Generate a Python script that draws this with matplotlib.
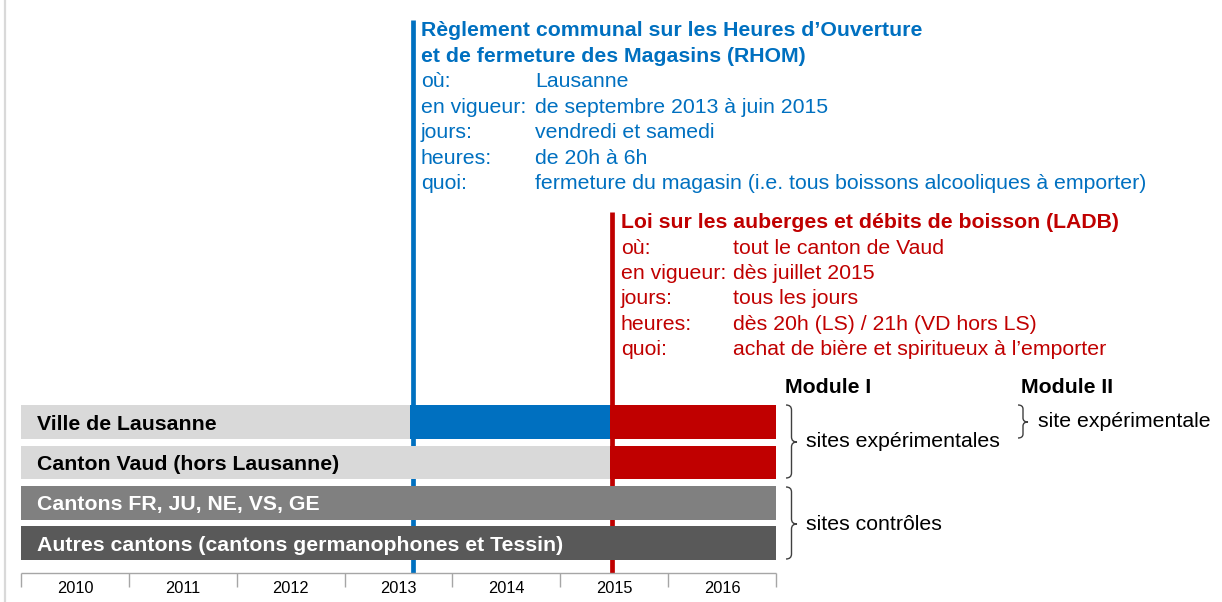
import matplotlib
matplotlib.use("Agg")
import matplotlib.pyplot as plt
from matplotlib.path import Path
from matplotlib.patches import PathPatch
from matplotlib.transforms import Affine2D, offset_copy
from matplotlib.lines import Line2D

# ---------------- data ----------------
years = [2010, 2011, 2012, 2013, 2014, 2015, 2016]
period_start = 2010.0
period_end = 2017.0
rhom_start = 2013.61      # RHOM (Lausanne), Sept 2013
ladb_start = 2015.46      # LADB (Vaud), July 2015

rows = ["Ville de Lausanne",
        "Canton Vaud (hors Lausanne)",
        "Cantons FR, JU, NE, VS, GE",
        "Autres cantons (cantons germanophones et Tessin)"]
row_base_colors = ["#D9D9D9", "#D9D9D9", "#808080", "#595959"]
row_text_colors = ["black", "black", "white", "white"]
rhom_rows = [True, False, False, False]
ladb_rows = [True, True, False, False]

rhom_title = ["Règlement communal sur les Heures d’Ouverture",
              "et de fermeture des Magasins (RHOM)"]
rhom_labels = ["où:", "en vigueur:", "jours:", "heures:", "quoi:"]
rhom_values = ["Lausanne", "de septembre 2013 à juin 2015", "vendredi et samedi",
               "de 20h à 6h", "fermeture du magasin (i.e. tous boissons alcooliques à emporter)"]

ladb_title = ["Loi sur les auberges et débits de boisson (LADB)"]
ladb_labels = ["où:", "en vigueur:", "jours:", "heures:", "quoi:"]
ladb_values = ["tout le canton de Vaud", "dès juillet 2015", "tous les jours",
               "dès 20h (LS) / 21h (VD hors LS)", "achat de bière et spiritueux à l’emporter"]

BLUE = "#0070C0"
RED = "#C00000"

# ---------------- layout ----------------
W, H = 1222, 602
plt.rcParams['font.family'] = ['Liberation Sans', 'DejaVu Sans']
FS = 15.3

fig = plt.figure(figsize=(W / 100, H / 100), dpi=100)
ax = fig.add_axes([0, 0, 1, 1])
ax.axis("off")

PPY = 107.86          # pixels per year
X0PX = 21             # pixel of 2010
ROW0PX = 422          # pixel of row 0 centre
PPR = 40.4            # pixels per row
ax.set_xlim(2010 - X0PX / PPY, 2010 + (W - X0PX) / PPY)
ax.set_ylim((H - ROW0PX) / PPR, -ROW0PX / PPR)


def ypx(p):
    return (p - ROW0PX) / PPR


# pixel-based transform for annotations (y downward)
pxT = Affine2D().scale(1 / W, -1 / H).translate(0, 1) + fig.transFigure


def ftext(x, y, s, **kw):
    fig.text(x / W, 1 - y / H, s, va="baseline", ha=kw.pop("ha", "left"), **kw)


# left frame line
fig.add_artist(Line2D([5, 5], [0, H], transform=pxT, color="#D9D9D9", lw=1.6))

# vertical regulation lines (behind bars)
shift = offset_copy(ax.transData, fig=fig, x=2.5, y=0, units="dots")
ax.vlines(rhom_start, ypx(20), ypx(573), colors=BLUE, lw=3.4, zorder=1, transform=shift)
ax.vlines(ladb_start, ypx(212), ypx(573), colors=RED, lw=3.4, zorder=1, transform=shift)

# bars
bar_h = 33.5 / PPR
for i, name in enumerate(rows):
    segs = []
    end_base = period_end
    if rhom_rows[i]:
        end_base = min(end_base, rhom_start)
    if ladb_rows[i]:
        end_base = min(end_base, ladb_start)
    segs.append((period_start, end_base, row_base_colors[i]))
    if rhom_rows[i]:
        segs.append((rhom_start, ladb_start if ladb_rows[i] else period_end, BLUE))
    if ladb_rows[i]:
        segs.append((ladb_start, period_end, RED))
    for a, b, c in segs:
        ax.barh(i, b - a, left=a, height=bar_h, color=c, edgecolor="none", zorder=2)
    ax.text(period_start + 16 / PPY, i + 7.5 / PPR, name, color=row_text_colors[i],
            fontsize=FS, fontweight="bold", va="baseline", ha="left", zorder=3)

# time axis
tick_years = years + [period_end]
ax.hlines(ypx(573), period_start, period_end, colors="#A6A6A6", lw=1, zorder=1)
ax.vlines(tick_years, ypx(573), ypx(587), colors="#A6A6A6", lw=1, zorder=1)
for y in years:
    ax.text(y + 0.5, ypx(593), str(y), fontsize=11.8, ha="center", va="baseline", color="black")

# RHOM text block
base = [36, 62]
for k, t in enumerate(rhom_title):
    ftext(421, base[k], t, color=BLUE, fontsize=FS, fontweight="bold")
for k, (lab, val) in enumerate(zip(rhom_labels, rhom_values)):
    yb = 87 + 25.6 * k
    ftext(421, yb, lab, color=BLUE, fontsize=FS)
    ftext(535, yb, val, color=BLUE, fontsize=FS)

# LADB text block
ftext(621, 228, ladb_title[0], color=RED, fontsize=FS, fontweight="bold")
for k, (lab, val) in enumerate(zip(ladb_labels, ladb_values)):
    yb = 253.5 + 25.4 * k
    ftext(621, yb, lab, color=RED, fontsize=FS)
    ftext(733, yb, val, color=RED, fontsize=FS)

# modules
ftext(785, 393, "Module I", color="black", fontsize=FS, fontweight="bold")
ftext(1021, 393, "Module II", color="black", fontsize=FS, fontweight="bold")


def brace(x0, x1, y0, y1, ym, r=5):
    xm = (x0 + x1) / 2
    verts = [(x0, y0), (xm, y0), (xm, y0 + r), (xm, ym - r), (xm, ym), (x1, ym),
             (xm, ym), (xm, ym + r), (xm, y1 - r), (xm, y1), (x0, y1)]
    codes = [Path.MOVETO, Path.CURVE3, Path.CURVE3, Path.LINETO, Path.CURVE3, Path.CURVE3,
             Path.CURVE3, Path.CURVE3, Path.LINETO, Path.CURVE3, Path.CURVE3]
    fig.add_artist(PathPatch(Path(verts, codes), transform=pxT, fill=False,
                             edgecolor="#404040", lw=1.0))


brace(786, 797, 405, 478, 442)
brace(786, 797, 487, 559, 524)
brace(1018, 1028, 405, 438, 422, r=4)

ftext(806, 447, "sites expérimentales", color="black", fontsize=FS)
ftext(806, 530, "sites contrôles", color="black", fontsize=FS)
ftext(1038, 427, "site expérimentale", color="black", fontsize=FS)

fig.savefig("out.png", dpi=100)
